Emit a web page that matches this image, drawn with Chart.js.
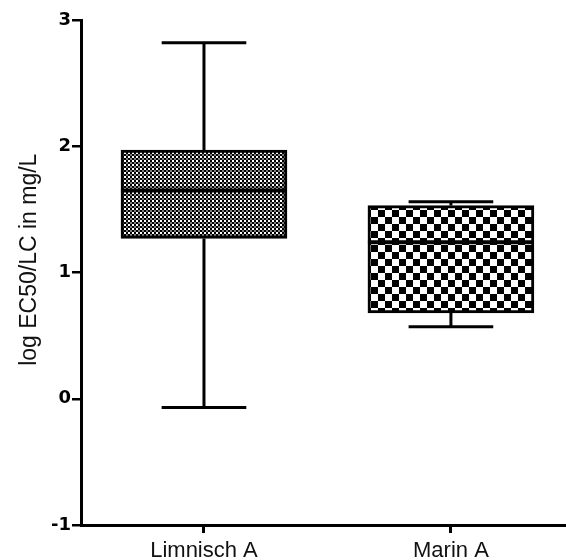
<!DOCTYPE html>
<html><head><meta charset="utf-8">
<script src="https://cdn.jsdelivr.net/npm/chart.js@4"></script>
<style>html,body{margin:0;padding:0;background:#fff;overflow:hidden}</style>
</head><body>
<canvas id="c" width="566" height="560" style="display:block;width:566px;height:560px"></canvas>
<script>
const categories = ['Limnisch A', 'Marin A'];
const minimums = [-0.07, 0.57];
const lowerQuartiles = [1.27, 0.68];
const medians = [1.65, 1.24];
const upperQuartiles = [1.97, 1.53];
const maximums = [2.82, 1.56];
const yTicks = [-1, 0, 1, 2, 3];
const yTitle = 'log EC50/LC in mg/L';

const mainCtx = document.getElementById('c').getContext('2d');
function makePattern(kind){
  const c = document.createElement('canvas');
  const ctx = c.getContext('2d');
  if (kind === 'fine') {
    c.width = 4; c.height = 4;
    ctx.fillStyle = '#000'; ctx.fillRect(0,0,4,4);
    ctx.fillStyle = '#fff'; ctx.fillRect(0,0,2,2);
    ctx.fillStyle = '#808080'; ctx.fillRect(2,2,2,2);
  } else {
    c.width = 14; c.height = 14;
    ctx.fillStyle = '#fff'; ctx.fillRect(0,0,14,14);
    ctx.fillStyle = '#000'; ctx.fillRect(0,0,7,7); ctx.fillRect(7,7,7,7);
  }
  return mainCtx.createPattern(c, 'repeat');
}
const fills = [makePattern('fine'), makePattern('coarse')];

const whiskerPlugin = {
  id: 'whiskers',
  afterDatasetsDraw(chart) {
    const {ctx, scales: {x, y}} = chart;
    const meta = chart.getDatasetMeta(0);
    ctx.save();
    ctx.strokeStyle = '#000';
    ctx.lineCap = 'butt';
    categories.forEach((c, i) => {
      const bar = meta.data[i];
      const cx = x.getPixelForValue(i);
      const half = bar.width / 2;
      const capHalf = half * 0.51;
      const yMin = y.getPixelForValue(minimums[i]);
      const yMax = y.getPixelForValue(maximums[i]);
      const yQ1 = y.getPixelForValue(lowerQuartiles[i]);
      const yQ3 = y.getPixelForValue(upperQuartiles[i]);
      const yMed = y.getPixelForValue(medians[i]);
      ctx.lineWidth = 3;
      ctx.beginPath();
      ctx.moveTo(cx, yQ3); ctx.lineTo(cx, yMax);
      ctx.moveTo(cx - capHalf, yMax); ctx.lineTo(cx + capHalf, yMax);
      ctx.moveTo(cx, yQ1); ctx.lineTo(cx, yMin);
      ctx.moveTo(cx - capHalf, yMin); ctx.lineTo(cx + capHalf, yMin);
      ctx.stroke();
      ctx.lineWidth = 4;
      ctx.beginPath();
      ctx.moveTo(cx - half, yMed); ctx.lineTo(cx + half, yMed);
      ctx.stroke();
    });
    ctx.restore();
  }
};

const fontFamily = '"Liberation Sans", Arial, Helvetica, sans-serif';

new Chart(mainCtx, {
  type: 'bar',
  data: {
    datasets: [{
      data: categories.map((c, i) => ({x: i, y: [lowerQuartiles[i], upperQuartiles[i]]})),
      backgroundColor: fills,
      borderColor: '#000',
      borderWidth: 3,
      borderSkipped: false,
      barThickness: 166
    }]
  },
  options: {
    responsive: false,
    animation: false,
    devicePixelRatio: 1,
    layout: {padding: {top: 20, left: 0, right: 0, bottom: 0}},
    plugins: {legend: {display: false}, tooltip: {enabled: false}},
    scales: {
      x: {
        type: 'linear',
        offset: false,
        min: -0.498,
        max: 1.466,
        afterBuildTicks: s => { s.ticks = categories.map((c, i) => ({value: i})); },
        afterFit: s => { s.height = 35; },
        ticks: {
          callback: v => categories[v] ?? '',
          font: {family: fontFamily, size: 22},
          color: '#111',
          padding: 5,
          maxRotation: 0,
          autoSkip: false
        },
        grid: {offset: false, drawOnChartArea: false, drawTicks: true, tickLength: 8, color: '#000', lineWidth: 3},
        border: {color: '#000', width: 3}
      },
      y: {
        type: 'linear',
        min: -1,
        max: 3,
        afterBuildTicks: s => { s.ticks = yTicks.map(v => ({value: v})); },
        afterFit: s => { s.width = 81; },
        ticks: {
          font: {family: '"DejaVu Sans", sans-serif', size: 18, weight: 'bold'},
          color: '#000',
          padding: 1
        },
        grid: {drawOnChartArea: false, drawTicks: true, tickLength: 9, color: '#000', lineWidth: 2.5},
        border: {color: '#000', width: 3},
        title: {
          display: true,
          text: '    ' + yTitle,
          font: {family: fontFamily, size: 23},
          color: '#111',
          padding: {top: 16, bottom: 0}
        }
      }
    }
  },
  plugins: [whiskerPlugin]
});
</script>
</body></html>
